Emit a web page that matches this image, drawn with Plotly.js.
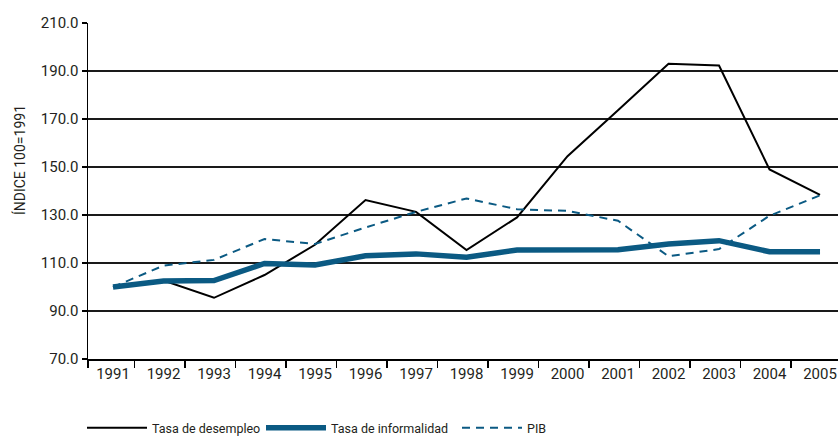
<!DOCTYPE html>
<html>
<head>
<meta charset="utf-8">
<script src="https://cdn.plot.ly/plotly-3.0.1.min.js"></script>
<style>html,body{margin:0;padding:0;background:#fff;}#chart{width:840px;height:437px;}</style>
</head>
<body>
<div id="chart"></div>
<script>
const years = [1991,1992,1993,1994,1995,1996,1997,1998,1999,2000,2001,2002,2003,2004,2005];
const desempleo = [100,102.7,95.5,105,117.6,136.2,131.3,115.4,129,154.5,173.6,193,192.3,149,138.4];
const informalidad = [100,102.5,102.7,109.8,109.2,113,113.8,112.4,115.4,115.5,115.5,117.9,119.3,114.7,114.7];
const pib = [100,108.9,111.3,120,117.9,124.8,131.3,136.9,132.4,131.7,127.6,112.8,115.8,129.7,138.2];
const yTicks = [70,90,110,130,150,170,190,210];
const seriesNames = ['Tasa de desempleo','Tasa de informalidad','PIB'];

const FONT = 'Roboto,"Liberation Sans",sans-serif';
const BLUE = '#0b5a83';
const TXT = '#231f20';

const traces = [
  {x: years, y: desempleo, name: seriesNames[0], type:'scatter', mode:'lines',
   line:{color:'#000000', width:2}, legend:'legend'},
  {x: years, y: informalidad, name: seriesNames[1], type:'scatter', mode:'lines',
   line:{color:BLUE, width:5.5}, legend:'legend2'},
  {x: years, y: pib, name: seriesNames[2], type:'scatter', mode:'lines',
   line:{color:BLUE, width:2, dash:'8px,6px'}, legend:'legend3'}
];

const minorTicks = [years[0]-0.495].concat(years.map(v => v + 0.43));

function leg(xpx) {
  return {orientation:'h', xref:'container', yref:'container', x: xpx/840, xanchor:'left',
          y: (437-428)/437, yanchor:'middle',
          font:{family: FONT, size: 12.5, color: TXT}, itemwidth: 60,
          bgcolor:'rgba(0,0,0,0)', borderwidth:0};
}

const layout = {
  width: 840, height: 437,
  margin: {l: 88, r: 2, t: 23, b: 78},
  paper_bgcolor: '#ffffff', plot_bgcolor: '#ffffff',
  font: {family: FONT, color: TXT, size: 15},
  showlegend: true,
  legend: leg(82),
  legend2: leg(261),
  legend3: leg(457),
  xaxis: {
    type:'linear', range:[1990.505, 2005.356],
    tickvals: years, ticktext: years.map(String),
    ticks:'', showgrid:false, zeroline:false,
    showline:true, linecolor:'#000', linewidth:1.5,
    tickfont:{family: FONT, size:15, color: TXT},
    minor:{tickvals: minorTicks, ticks:'outside', ticklen:7, tickcolor:'#000', tickwidth:1.5, showgrid:false}
  },
  yaxis: {
    range:[70,210], tickvals: yTicks, tickformat:'.1f',
    ticks:'outside', ticklen:5, tickcolor:'#000', tickwidth:1.2,
    showgrid:true, gridcolor:'#1a1a1a', gridwidth:1.2,
    zeroline:false, showline:true, linecolor:'#000', linewidth:1.5,
    tickfont:{family: FONT, size:15, color: TXT}
  },
  annotations: [
    {text:'ÍNDICE 100=1991', xref:'paper', yref:'paper', x:-0.092, y:0.592,
     xanchor:'center', yanchor:'middle', textangle:-90, showarrow:false,
     font:{family: FONT, size:14, color: TXT}}
  ]
};

Plotly.newPlot('chart', traces, layout, {displayModeBar:false, staticPlot:true});
</script>
</body>
</html>
